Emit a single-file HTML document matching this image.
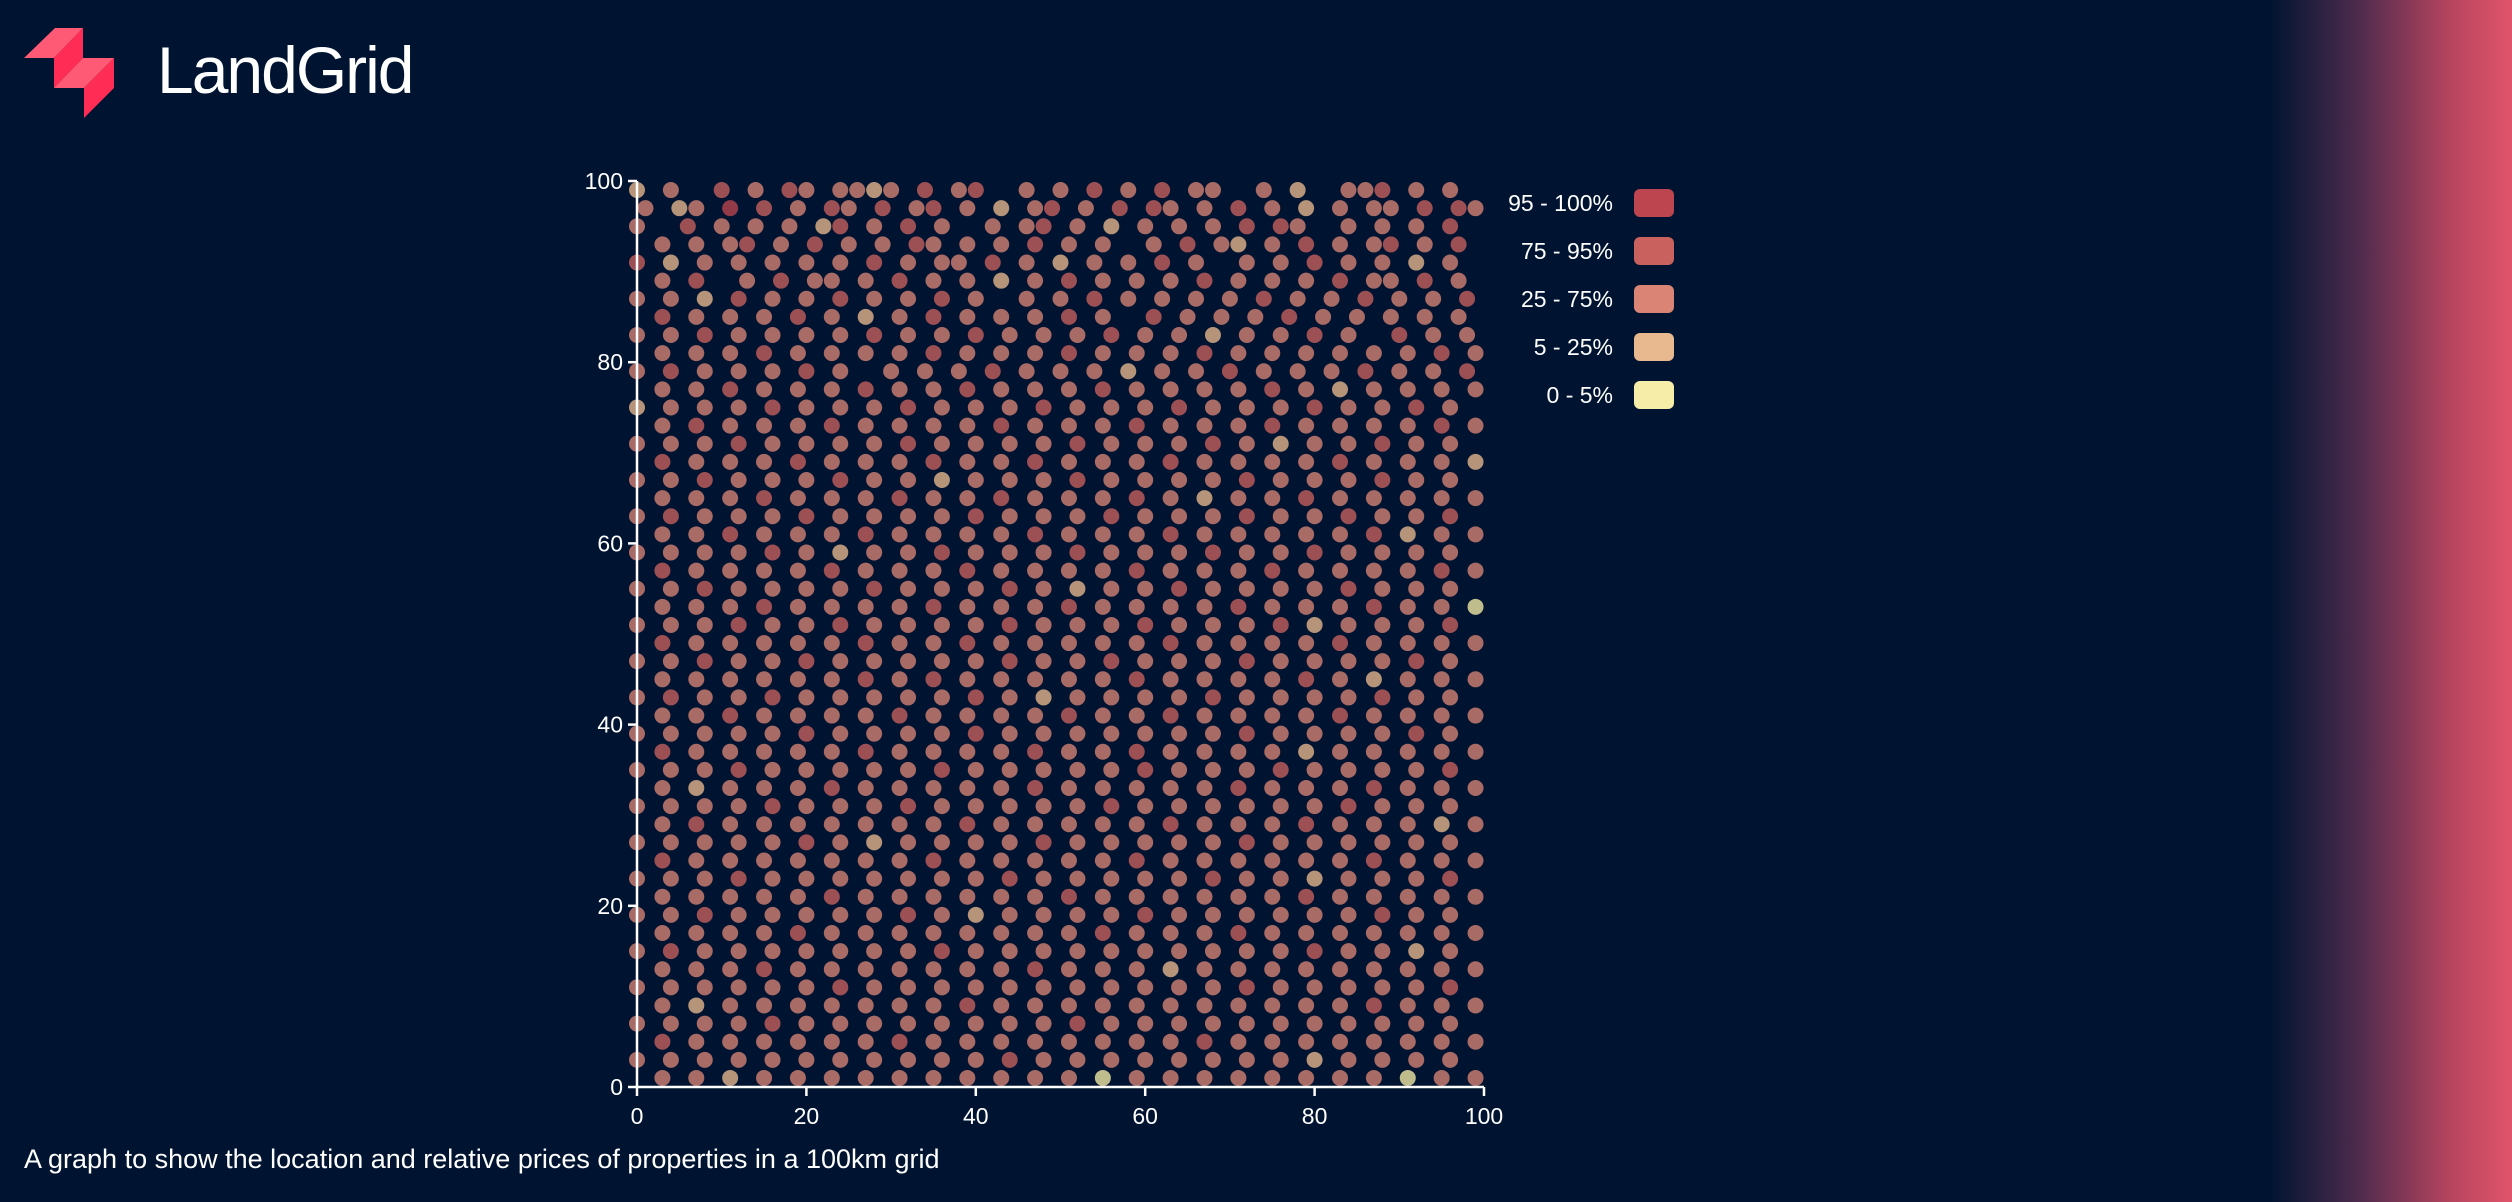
<!DOCTYPE html>
<html><head><meta charset="utf-8"><style>
html,body{margin:0;padding:0}
body{width:2512px;height:1202px;overflow:hidden;background:#001431;font-family:"Liberation Sans",sans-serif;position:relative}
#grad{position:absolute;left:2270px;top:0;width:242px;height:1202px;background:linear-gradient(90deg,#001431 0%,#4a2a4c 35%,#b8455f 75%,#e0546a 100%)}
#title{position:absolute;left:157px;top:32px;font-size:66px;color:#fff;letter-spacing:-2px}
#caption{position:absolute;left:24px;top:1144px;font-size:27px;color:#fff}
svg{position:absolute;left:0;top:0}
</style></head><body>
<div id="grad"></div>
<svg width="2512" height="1202" id="chart">
<g>
<polygon points="24,58 55,28 83,28 54,58" fill="#ff5a75"/>
<polygon points="54,58 83,28 83,58 54,88" fill="#ff2d55"/>
<polygon points="54,88 83,58 114,58 84,88" fill="#ff5a75"/>
<polygon points="84,88 114,58 114,88 84,118" fill="#ff2d55"/>
</g>
</svg>
<div id="title">LandGrid</div>
<div id="caption">A graph to show the location and relative prices of properties in a 100km grid</div>
<script>
const bandLabels=["95 - 100%","75 - 95%","25 - 75%","5 - 25%","0 - 5%"];
const bandColors=["#bd4550","#c9625f","#d98474","#e8b88e","#f6eda8"];
const xTicks=[0,20,40,60,80,100];
const yTicks=[0,20,40,60,80,100];
// grid rows (top = y 99), '.' empty, digit = price band 1..5
const gridRows=[
"4.3..2.3.23.3343.2.32..3.3.2.3.2.33..3.4..332.3.3.",
"3.43.1.2.3.23.2.32.3.4.32.3.2.23.3.2.3.4.3.33.2.23",
"3..2.3.3.3.42.3.2.3..3.32.3.4.3.3.3.2.23..3.3.3.2.",
".3.3.32.3.2.3.3.23.3.3.2.3.3..3.2.34.3.2.3.32.3.2.",
"2.4.3.3.3.3.3.2.3.33.2.3.4.3.3.2.3..3.3.2.3.3.4.3.",
".3.2..3.2.33.3.2.3.3.4.3.2.3.3.3.2.3.3.3.2.33.2.3.",
"3.3.4.2.3.3.2.3.3.2.3..3.3.2.3.3.3.3.2.3.3.2.3.3.2",
".2.3.3.3.2.3.4.3.2.3.3.3.2.3..2.3.3.3.2.3.3.3.3.3.",
"3.3.2.3.3.3.3.2.3.3.2.3.3.3.2.3.3.4.3.3.2.3..2.3.3",
".3.3.3.2.3.3.3.3.2.3.3.3.2.3.3.3.2.3.3.3.3.3.3.2.3",
"3.2.3.3.3.2.3..3.3.3.2.3.3.3.4.3.3.2.3.3.3.2.3.3.2",
".3.3.2.3.3.3.2.3.3.2.3.3.3.2.3.3.3.3.2.3.4.3.3.3.3",
"4.3.3.3.2.3.3.3.2.3.3.3.2.3.3.3.2.3.3.3.2.3.3.2.3.",
".3.2.3.3.3.2.3.3.3.3.2.3.3.3.2.3.3.3.2.3.3.3.3.2.3",
"3.3.3.2.3.3.3.3.2.3.3.3.3.2.3.3.3.2.3.4.3.3.2.3.3.",
".2.3.3.3.2.3.3.3.2.3.3.2.3.3.3.2.3.3.3.3.2.3.3.3.4",
"3.3.2.3.3.3.2.3.3.4.3.3.3.2.3.3.3.3.2.3.3.3.2.3.3.",
".3.3.3.2.3.3.3.2.3.3.2.3.3.3.2.3.4.3.3.2.3.3.3.3.3",
"3.2.3.3.3.2.3.3.3.3.2.3.3.3.2.3.3.3.2.3.3.2.3.3.2.",
".3.3.2.3.3.3.2.3.3.3.3.2.3.3.3.2.3.3.3.3.3.2.4.3.3",
"3.3.3.3.2.3.4.3.3.2.3.3.3.2.3.3.3.2.3.3.2.3.3.3.3.",
".2.3.3.3.3.2.3.3.3.2.3.3.3.3.2.3.3.3.2.3.3.3.3.2.3",
"3.3.2.3.3.3.3.2.3.3.3.2.3.4.3.3.2.3.3.3.3.2.3.3.3.",
".3.3.3.2.3.3.3.3.2.3.3.3.2.3.3.3.3.2.3.3.3.2.3.3.5",
"3.3.3.2.3.3.2.3.3.3.3.2.3.3.3.2.3.3.3.2.4.3.3.3.2.",
".2.3.3.3.3.3.2.3.3.2.3.3.3.3.3.2.3.3.3.3.2.3.3.3.3",
"3.3.2.3.3.2.3.3.3.3.3.2.3.3.2.3.3.3.2.3.3.3.3.2.3.",
".3.3.3.3.3.3.2.3.2.3.3.3.3.3.2.3.3.3.3.2.3.4.3.3.3",
"3.2.3.3.2.3.3.3.3.3.2.3.4.3.3.3.3.2.3.3.3.3.2.3.3.",
".3.3.2.3.3.3.3.2.3.3.3.3.2.3.3.2.3.3.3.3.2.3.3.3.3",
"3.3.3.3.3.2.3.3.3.3.2.3.3.3.3.3.3.3.2.3.3.3.3.2.3.",
".2.3.3.3.3.3.2.3.3.3.3.2.3.3.2.3.3.3.3.4.3.3.3.3.3",
"3.3.3.2.3.3.3.3.3.2.3.3.3.3.3.2.3.3.3.2.3.3.3.3.2.",
".3.4.3.3.3.2.3.3.3.3.3.2.3.3.3.3.3.2.3.3.3.2.3.3.3",
"3.3.3.3.2.3.3.3.2.3.3.3.3.3.2.3.3.3.3.3.3.2.3.3.3.",
".3.2.3.3.3.3.3.3.3.2.3.3.3.3.3.2.3.3.3.2.3.3.3.4.3",
"3.3.3.3.3.2.3.4.3.3.3.3.2.3.3.3.3.3.2.3.3.3.3.3.3.",
".2.3.3.3.3.3.3.3.2.3.3.3.3.3.2.3.3.3.3.3.3.2.3.3.3",
"3.3.3.2.3.3.3.3.3.3.3.2.3.3.3.3.3.2.3.3.4.3.3.3.2.",
".3.3.3.3.3.2.3.3.3.3.3.3.2.3.3.3.3.3.3.2.3.3.3.3.3",
"3.3.2.3.3.3.3.3.2.3.4.3.3.3.3.2.3.3.3.3.3.3.2.3.3.",
".3.3.3.3.2.3.3.3.3.3.3.3.3.2.3.3.3.2.3.3.3.3.3.3.3",
"3.2.3.3.3.3.3.3.3.2.3.3.3.3.3.3.3.3.3.3.2.3.3.4.3.",
".3.3.3.2.3.3.3.3.3.3.3.2.3.3.3.4.3.3.3.3.3.3.3.3.3",
"3.3.3.3.3.3.2.3.3.3.3.3.3.3.3.3.3.3.2.3.3.3.3.3.2.",
".3.4.3.3.3.3.3.3.3.2.3.3.3.3.3.3.3.3.3.3.3.2.3.3.3",
"3.3.3.3.2.3.3.3.3.3.3.3.3.2.3.3.3.3.3.3.3.3.3.3.3.",
".2.3.3.3.3.3.3.2.3.3.3.3.3.3.3.3.2.3.3.3.3.3.3.3.3",
"3.3.3.3.3.3.3.3.3.3.3.2.3.3.3.3.3.3.3.3.4.3.3.3.3.",
".3.3.4.3.3.3.3.3.3.3.3.3.3.5.3.3.3.3.3.3.3.3.5.3.3"
];
const NS="http://www.w3.org/2000/svg";
const svg=document.getElementById('chart');
const X0=637,X1=1484,Y0=1087,Y1=181;
const xs=v=>X0+(X1-X0)*v/100;
const ys=v=>Y0-(Y0-Y1)*v/100;
function mk(t,a){const e=document.createElementNS(NS,t);for(const k in a)e.setAttribute(k,a[k]);return e;}
const gp=mk('g',{});


svg.appendChild(gp);
gridRows.forEach((row,r)=>{
  for(let c=0;c<row.length;c++){
    const ch=row[c]; if(ch==='.')continue;
    const b=+ch-1;
    const xv=2*c+(r%2), yv=99-2*r;
    const p=mk('circle',{cx:xs(xv),cy:ys(yv),r:8,fill:bandColors[b],'fill-opacity':0.78});
    
    
    gp.appendChild(p);
  }
});
const ax=mk('g',{stroke:'#fff','stroke-width':2.5,fill:'none'});


svg.appendChild(ax);
ax.appendChild(mk('path',{d:`M${X0},${Y1}V${Y0}H${X1}`}));
xTicks.forEach(t=>{
  ax.appendChild(mk('line',{x1:xs(t),x2:xs(t),y1:Y0,y2:Y0+9}));
  const tx=mk('text',{x:xs(t),y:Y0+37,fill:'#fff',stroke:'none','font-size':23,'text-anchor':'middle','font-family':'Liberation Sans'});
  tx.textContent=t;
  
  
  svg.appendChild(tx);
});
yTicks.forEach(t=>{
  ax.appendChild(mk('line',{x1:X0-9,x2:X0,y1:ys(t),y2:ys(t)}));
  const tx=mk('text',{x:X0-14,y:ys(t)+8,fill:'#fff',stroke:'none','font-size':23,'text-anchor':'end','font-family':'Liberation Sans'});
  tx.textContent=t;
  
  
  svg.appendChild(tx);
});
bandLabels.forEach((l,i)=>{
  const g=mk('g',{});
  
  
  const cy=203+48*i;
  const tx=mk('text',{x:1613,y:cy+8,fill:'#fff','font-size':23,'text-anchor':'end','font-family':'Liberation Sans'});
  tx.textContent=l;
  g.appendChild(tx);
  g.appendChild(mk('rect',{x:1634,y:cy-14,width:40,height:28,rx:6,fill:bandColors[i]}));
  svg.appendChild(g);
});
</script>
</body></html>
